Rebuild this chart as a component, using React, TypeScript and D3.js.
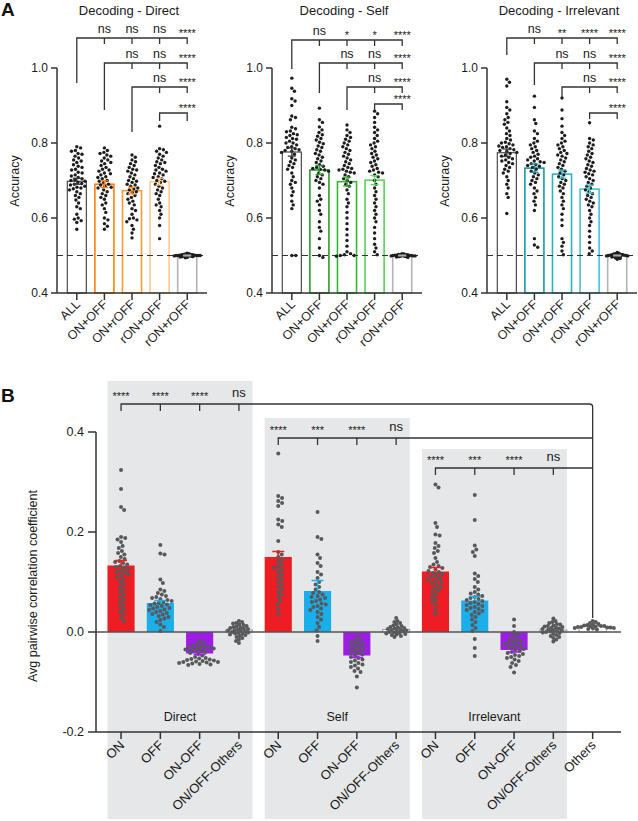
import React from "react";
import * as d3 from "d3";

const FONT = "'Liberation Sans', Arial, Helvetica, sans-serif";

// ---------------- Panel A data ----------------
const decodingCategories = ["ALL", "ON+OFF", "ON+rOFF", "rON+OFF", "rON+rOFF"];
const decodingTitles = ["Decoding - Direct", "Decoding - Self", "Decoding - Irrelevant"];
const accuracyTicks = [0.4, 0.6, 0.8, 1.0];
const chanceLevel = 0.5;

const directMeans = [0.698, 0.69, 0.673, 0.697, 0.5];
const selfMeans = [0.776, 0.728, 0.697, 0.701, 0.5];
const irrelevantMeans = [0.774, 0.733, 0.717, 0.677, 0.5];
const directSems = [0.008, 0.009, 0.009, 0.009, 0.001];
const selfSems = [0.011, 0.012, 0.012, 0.012, 0.001];
const irrelevantSems = [0.01, 0.011, 0.011, 0.011, 0.001];

const directColors = ["#3a3a3a", "#ff7f0e", "#ff9a33", "#ffc98f", "#b3b3b3"];
const selfColors = ["#3a3a3a", "#2a9d2a", "#36b536", "#55d455", "#b3b3b3"];
const irrelevantColors = ["#3a3a3a", "#1a98a6", "#2db1c1", "#48c4d3", "#b3b3b3"];

const directSig = [["ns", "ns", "ns", "****"], ["ns", "ns", "****"], ["ns", "****"], ["****"]];
const selfSig = [["ns", "*", "*", "****"], ["ns", "ns", "****"], ["ns", "****"], ["****"]];
const irrelevantSig = [["ns", "**", "****", "****"], ["ns", "ns", "****"], ["ns", "****"], ["****"]];

const directAll = [0.79, 0.787, 0.78, 0.778, 0.772, 0.77, 0.765, 0.76, 0.755, 0.752, 0.748, 0.742, 0.738, 0.735, 0.73, 0.728, 0.722, 0.72, 0.715, 0.712, 0.708, 0.705, 0.702, 0.7, 0.698, 0.695, 0.692, 0.69, 0.688, 0.685, 0.682, 0.68, 0.678, 0.675, 0.67, 0.665, 0.66, 0.655, 0.648, 0.64, 0.63, 0.625, 0.61, 0.6, 0.597, 0.593, 0.588, 0.57];
const directOnOff = [0.787, 0.78, 0.775, 0.772, 0.768, 0.765, 0.76, 0.755, 0.752, 0.748, 0.745, 0.74, 0.735, 0.73, 0.728, 0.725, 0.72, 0.718, 0.715, 0.71, 0.708, 0.705, 0.7, 0.698, 0.695, 0.69, 0.688, 0.685, 0.682, 0.68, 0.675, 0.67, 0.665, 0.66, 0.655, 0.65, 0.64, 0.635, 0.625, 0.615, 0.6, 0.595, 0.585, 0.578, 0.57];
const directOnROff = [0.768, 0.762, 0.755, 0.75, 0.745, 0.74, 0.735, 0.73, 0.728, 0.725, 0.72, 0.715, 0.71, 0.705, 0.7, 0.698, 0.695, 0.69, 0.688, 0.685, 0.68, 0.678, 0.675, 0.67, 0.668, 0.665, 0.66, 0.655, 0.65, 0.645, 0.64, 0.635, 0.625, 0.62, 0.61, 0.6, 0.598, 0.595, 0.59, 0.58, 0.57, 0.56, 0.547];
const directROnOff = [0.845, 0.785, 0.782, 0.778, 0.775, 0.77, 0.765, 0.76, 0.755, 0.75, 0.748, 0.745, 0.74, 0.735, 0.73, 0.728, 0.725, 0.72, 0.718, 0.715, 0.71, 0.708, 0.705, 0.7, 0.698, 0.695, 0.69, 0.685, 0.68, 0.675, 0.67, 0.665, 0.66, 0.65, 0.64, 0.635, 0.63, 0.62, 0.61, 0.6, 0.58, 0.545];
const directChance = [0.506, 0.505, 0.504, 0.503, 0.503, 0.502, 0.502, 0.501, 0.501, 0.501, 0.5, 0.5, 0.5, 0.5, 0.5, 0.499, 0.499, 0.499, 0.498, 0.498, 0.497, 0.497, 0.496, 0.495, 0.494];

const selfAll = [0.973, 0.946, 0.938, 0.918, 0.912, 0.9, 0.872, 0.868, 0.862, 0.842, 0.838, 0.832, 0.83, 0.825, 0.822, 0.82, 0.815, 0.812, 0.81, 0.805, 0.8, 0.8, 0.795, 0.79, 0.788, 0.785, 0.782, 0.78, 0.778, 0.775, 0.77, 0.76, 0.755, 0.75, 0.745, 0.74, 0.735, 0.73, 0.72, 0.71, 0.7, 0.695, 0.69, 0.68, 0.67, 0.66, 0.645, 0.635, 0.625, 0.5, 0.5];
const selfOnOff = [0.893, 0.862, 0.855, 0.843, 0.835, 0.828, 0.822, 0.818, 0.812, 0.808, 0.802, 0.798, 0.792, 0.788, 0.782, 0.778, 0.772, 0.768, 0.762, 0.758, 0.752, 0.748, 0.742, 0.738, 0.735, 0.732, 0.73, 0.728, 0.725, 0.72, 0.715, 0.71, 0.705, 0.7, 0.695, 0.69, 0.68, 0.66, 0.65, 0.645, 0.635, 0.62, 0.61, 0.59, 0.575, 0.565, 0.545, 0.52, 0.5, 0.495];
const selfOnROff = [0.848, 0.835, 0.828, 0.82, 0.815, 0.81, 0.805, 0.8, 0.795, 0.79, 0.785, 0.78, 0.775, 0.77, 0.765, 0.76, 0.755, 0.75, 0.745, 0.74, 0.735, 0.732, 0.73, 0.728, 0.725, 0.722, 0.72, 0.715, 0.71, 0.705, 0.7, 0.695, 0.69, 0.685, 0.675, 0.665, 0.65, 0.64, 0.63, 0.615, 0.6, 0.585, 0.57, 0.555, 0.54, 0.525, 0.51, 0.505, 0.502, 0.5, 0.5, 0.498];
const selfROnOff = [0.885, 0.878, 0.868, 0.855, 0.842, 0.835, 0.828, 0.82, 0.812, 0.805, 0.8, 0.795, 0.79, 0.785, 0.778, 0.772, 0.768, 0.762, 0.758, 0.752, 0.748, 0.742, 0.738, 0.732, 0.728, 0.725, 0.722, 0.72, 0.715, 0.71, 0.7, 0.69, 0.68, 0.67, 0.66, 0.65, 0.64, 0.63, 0.62, 0.61, 0.6, 0.59, 0.575, 0.56, 0.545, 0.53, 0.52, 0.51, 0.502];
const selfChance = [0.505, 0.504, 0.503, 0.503, 0.502, 0.502, 0.501, 0.501, 0.5, 0.5, 0.5, 0.5, 0.499, 0.499, 0.499, 0.498, 0.498, 0.497, 0.497, 0.496, 0.495];

const irrelevantAll = [0.97, 0.962, 0.952, 0.91, 0.895, 0.888, 0.878, 0.868, 0.862, 0.855, 0.85, 0.84, 0.832, 0.825, 0.82, 0.812, 0.808, 0.802, 0.8, 0.798, 0.795, 0.792, 0.79, 0.788, 0.785, 0.782, 0.78, 0.778, 0.775, 0.772, 0.768, 0.765, 0.762, 0.758, 0.755, 0.752, 0.748, 0.745, 0.74, 0.735, 0.73, 0.725, 0.72, 0.71, 0.7, 0.69, 0.68, 0.665, 0.655, 0.612];
const irrelevantOnOff = [0.925, 0.895, 0.862, 0.852, 0.832, 0.825, 0.812, 0.805, 0.8, 0.795, 0.79, 0.785, 0.78, 0.775, 0.77, 0.765, 0.762, 0.758, 0.755, 0.752, 0.75, 0.748, 0.745, 0.742, 0.74, 0.738, 0.735, 0.73, 0.725, 0.72, 0.715, 0.71, 0.705, 0.7, 0.695, 0.69, 0.68, 0.672, 0.665, 0.655, 0.645, 0.635, 0.62, 0.545, 0.528, 0.522];
const irrelevantOnROff = [0.92, 0.888, 0.865, 0.845, 0.828, 0.82, 0.812, 0.805, 0.8, 0.795, 0.79, 0.785, 0.78, 0.775, 0.772, 0.768, 0.765, 0.76, 0.755, 0.75, 0.745, 0.74, 0.735, 0.73, 0.725, 0.72, 0.715, 0.71, 0.705, 0.7, 0.695, 0.69, 0.685, 0.68, 0.672, 0.665, 0.655, 0.645, 0.635, 0.625, 0.61, 0.595, 0.58, 0.545, 0.535, 0.525, 0.512, 0.502];
const irrelevantROnOff = [0.854, 0.812, 0.808, 0.8, 0.795, 0.79, 0.785, 0.778, 0.772, 0.768, 0.762, 0.758, 0.752, 0.748, 0.742, 0.738, 0.732, 0.728, 0.725, 0.722, 0.718, 0.715, 0.71, 0.705, 0.7, 0.695, 0.69, 0.685, 0.68, 0.675, 0.67, 0.665, 0.66, 0.655, 0.65, 0.645, 0.64, 0.635, 0.63, 0.62, 0.61, 0.6, 0.59, 0.58, 0.565, 0.55, 0.535, 0.52, 0.512, 0.505];
const irrelevantChance = [0.508, 0.506, 0.505, 0.504, 0.503, 0.503, 0.502, 0.502, 0.501, 0.501, 0.5, 0.5, 0.5, 0.5, 0.499, 0.499, 0.498, 0.498, 0.497, 0.496, 0.495, 0.494, 0.492, 0.49];

// ---------------- Panel B data ----------------
const corrLabels = ["ON", "OFF", "ON-OFF", "ON/OFF-Others", "ON", "OFF", "ON-OFF", "ON/OFF-Others", "ON", "OFF", "ON-OFF", "ON/OFF-Others", "Others"];
const corrGroupNames = ["Direct", "Self", "Irrelevant"];
const corrTicks = [-0.2, 0.0, 0.2, 0.4];
const corrMeans = [0.133, 0.058, -0.043, 0.004, 0.15, 0.082, -0.047, 0.005, 0.121, 0.063, -0.036, 0.004, 0.011];
const corrSems = [0.01, 0.005, 0.002, 0.002, 0.011, 0.021, 0.004, 0.002, 0.008, 0.008, 0.004, 0.002, 0.001];
const corrSig = [["****", "****", "****", "ns"], ["****", "***", "****", "ns"], ["****", "***", "****", "ns"]];
const corrFills = ["#ee1d23", "#1aaeea", "#9d1de6", "#ffffff"];

const directOn = [0.324, 0.286, 0.25, 0.244, 0.19, 0.188, 0.185, 0.18, 0.172, 0.168, 0.162, 0.158, 0.155, 0.15, 0.146, 0.142, 0.14, 0.138, 0.135, 0.132, 0.13, 0.128, 0.125, 0.122, 0.12, 0.118, 0.115, 0.112, 0.11, 0.105, 0.1, 0.095, 0.09, 0.085, 0.08, 0.075, 0.07, 0.065, 0.06, 0.055, 0.05, 0.045, 0.04, 0.035, 0.028, 0.022];
const directOff = [0.174, 0.157, 0.155, 0.105, 0.098, 0.085, 0.082, 0.078, 0.075, 0.072, 0.07, 0.068, 0.066, 0.064, 0.062, 0.06, 0.058, 0.057, 0.055, 0.054, 0.052, 0.05, 0.048, 0.047, 0.045, 0.044, 0.042, 0.04, 0.038, 0.036, 0.035, 0.032, 0.03, 0.027, 0.024, 0.02, 0.015, 0.01, 0.002];
const directOnMinusOff = [-0.018, -0.022, -0.025, -0.027, -0.029, -0.03, -0.031, -0.032, -0.033, -0.034, -0.035, -0.036, -0.038, -0.04, -0.042, -0.044, -0.047, -0.05, -0.052, -0.053, -0.054, -0.055, -0.056, -0.057, -0.058, -0.059, -0.06, -0.06, -0.061, -0.062, -0.063, -0.064, -0.065, -0.066];
const directOthers = [0.022, 0.02, 0.018, 0.017, 0.015, 0.014, 0.012, 0.011, 0.01, 0.009, 0.008, 0.007, 0.006, 0.005, 0.004, 0.003, 0.002, 0.001, 0.0, -0.001, -0.002, -0.003, -0.004, -0.005, -0.006, -0.008, -0.01, -0.012, -0.015, -0.018, -0.022];
const selfOn = [0.357, 0.272, 0.268, 0.262, 0.258, 0.252, 0.225, 0.222, 0.215, 0.21, 0.182, 0.16, 0.155, 0.15, 0.145, 0.14, 0.135, 0.13, 0.128, 0.125, 0.12, 0.115, 0.11, 0.105, 0.1, 0.095, 0.09, 0.085, 0.08, 0.075, 0.07, 0.062, 0.055, 0.045, 0.035];
const selfOff = [0.24, 0.19, 0.186, 0.155, 0.148, 0.138, 0.132, 0.12, 0.115, 0.108, 0.1, 0.095, 0.09, 0.085, 0.08, 0.078, 0.075, 0.072, 0.07, 0.068, 0.065, 0.062, 0.06, 0.057, 0.055, 0.052, 0.05, 0.047, 0.044, 0.04, 0.036, 0.03, 0.025, 0.018, 0.01, 0.003, -0.008, -0.018];
const selfOnMinusOff = [-0.01, -0.015, -0.018, -0.02, -0.023, -0.025, -0.027, -0.03, -0.032, -0.035, -0.037, -0.04, -0.042, -0.045, -0.047, -0.05, -0.052, -0.055, -0.057, -0.06, -0.062, -0.065, -0.067, -0.07, -0.073, -0.078, -0.08, -0.089, -0.111];
const selfOthers = [0.028, 0.022, 0.02, 0.018, 0.015, 0.013, 0.012, 0.01, 0.009, 0.008, 0.007, 0.006, 0.005, 0.004, 0.003, 0.002, 0.001, 0.0, -0.001, -0.002, -0.003, -0.004, -0.005, -0.006, -0.008, -0.01];
const irrelevantOn = [0.295, 0.289, 0.218, 0.21, 0.195, 0.193, 0.178, 0.172, 0.168, 0.162, 0.158, 0.148, 0.14, 0.135, 0.132, 0.13, 0.128, 0.125, 0.122, 0.12, 0.118, 0.115, 0.112, 0.11, 0.108, 0.105, 0.102, 0.1, 0.097, 0.094, 0.09, 0.087, 0.083, 0.08, 0.075, 0.07, 0.065, 0.06, 0.055, 0.045, 0.036];
const irrelevantOff = [0.274, 0.224, 0.173, 0.165, 0.16, 0.152, 0.117, 0.112, 0.106, 0.1, 0.09, 0.085, 0.08, 0.077, 0.075, 0.072, 0.07, 0.068, 0.066, 0.064, 0.062, 0.06, 0.058, 0.056, 0.054, 0.052, 0.05, 0.048, 0.046, 0.044, 0.042, 0.04, 0.037, 0.034, 0.03, 0.025, 0.02, 0.014, 0.008, 0.002, -0.014, -0.032, -0.048];
const irrelevantOnMinusOff = [0.025, 0.012, 0.0, -0.005, -0.01, -0.013, -0.016, -0.018, -0.02, -0.022, -0.024, -0.026, -0.028, -0.03, -0.032, -0.034, -0.036, -0.038, -0.04, -0.042, -0.044, -0.046, -0.048, -0.05, -0.052, -0.055, -0.058, -0.062, -0.066, -0.07, -0.081];
const irrelevantOthers = [0.027, 0.022, 0.02, 0.018, 0.016, 0.015, 0.013, 0.012, 0.011, 0.01, 0.009, 0.008, 0.007, 0.006, 0.005, 0.004, 0.003, 0.002, 0.001, 0.0, -0.001, -0.002, -0.004, -0.006, -0.008, -0.01, -0.012, -0.015, -0.019];
const othersOnly = [0.022, 0.02, 0.018, 0.016, 0.015, 0.014, 0.013, 0.012, 0.012, 0.011, 0.011, 0.01, 0.01, 0.009, 0.009, 0.008, 0.008, 0.007, 0.006, 0.005];

// ---------------- helpers ----------------
function swarm(values: number[], yScale: (v: number) => number, cx: number, D: number) {
  const ys = values.map((v) => yScale(v)).sort((a, b) => a - b);
  const placed: { x: number; y: number }[] = [];
  for (const py of ys) {
    const iv: [number, number][] = [];
    for (const q of placed) {
      const dy = Math.abs(q.y - py);
      if (dy < D) {
        const dx = Math.sqrt(D * D - dy * dy);
        iv.push([q.x - dx, q.x + dx]);
      }
    }
    const cands = [0];
    iv.forEach(([a, b]) => cands.push(a, b));
    cands.sort((a, b) => Math.abs(a) - Math.abs(b) || b - a);
    let best = 0;
    for (const c of cands) {
      if (iv.every(([a, b]) => c <= a + 1e-6 || c >= b - 1e-6)) {
        best = c;
        break;
      }
    }
    placed.push({ x: best, y: py });
  }
  return placed.map((p) => ({ x: cx + p.x, y: p.y }));
}

const AXIS = "#333";
const TEXT = "#1a1a1a";

function DecodingPanel(props: any) {
  const { left, title, means, sems, colors, pts, sig, rowY, legEnd } = props;
  const x = d3.scaleBand<string>().domain(decodingCategories).range([left + 6, left + 144]).paddingInner(0.31).paddingOuter(0.155);
  const y = d3.scaleLinear().domain([0.4, 1.0]).range([293, 68]);
  const bw = x.bandwidth();
  const cx = (i: number) => (x(decodingCategories[i]) as number) + bw / 2;
  const base = y(0.4);
  const last = decodingCategories.length - 1;
  return (
    <g>
      <text x={left + 72} y={15} textAnchor="middle" fontSize={13} fill={TEXT}>{title}</text>
      <text transform={`translate(${left - 38},181) rotate(-90)`} textAnchor="middle" fontSize={12.5} fill={TEXT}>Accuracy</text>
      {decodingCategories.map((c, i) => (
        <rect key={c} x={x(c)} y={y(means[i])} width={bw} height={base - y(means[i])} fill="#fff" stroke={colors[i]} strokeWidth={i === 0 ? 1.1 : 1.6} />
      ))}
      <line x1={left} x2={left + 150} y1={y(chanceLevel)} y2={y(chanceLevel)} stroke="#333" strokeDasharray="6,4" strokeWidth={1.2} />
      {pts.map((vals: number[], i: number) =>
        swarm(vals, y, cx(i), i === last ? 1.9 : 4.0).map((p, k) => (
          <circle key={`${i}-${k}`} cx={p.x} cy={p.y} r={1.7} fill="#1e1e1e" />
        ))
      )}
      {decodingCategories.map((c, i) => (
        <g key={`e${c}`} stroke={colors[i]} strokeWidth={1.3}>
          <line x1={cx(i)} x2={cx(i)} y1={y(means[i] - sems[i])} y2={y(means[i] + sems[i])} />
          <line x1={cx(i) - 4} x2={cx(i) + 4} y1={y(means[i] + sems[i])} y2={y(means[i] + sems[i])} />
          <line x1={cx(i) - 4} x2={cx(i) + 4} y1={y(means[i] - sems[i])} y2={y(means[i] - sems[i])} />
        </g>
      ))}
      <line x1={left} x2={left} y1={y(1.0)} y2={base} stroke={AXIS} strokeWidth={1.5} />
      <line x1={left} x2={left + 150} y1={base} y2={base} stroke={AXIS} strokeWidth={1.5} />
      {accuracyTicks.map((t) => (
        <g key={t}>
          <line x1={left - 6} x2={left} y1={y(t)} y2={y(t)} stroke={AXIS} strokeWidth={1.5} />
          <text x={left - 9} y={y(t)} dy="0.35em" textAnchor="end" fontSize={12} fill={TEXT}>{d3.format(".1f")(t)}</text>
        </g>
      ))}
      {decodingCategories.map((c, i) => (
        <g key={`t${c}`}>
          <line x1={cx(i)} x2={cx(i)} y1={base} y2={base + 7} stroke={AXIS} strokeWidth={1.5} />
          <text transform={`translate(${cx(i) + 4},${base + 12}) rotate(-45)`} textAnchor="end" fontSize={12.5} fill={TEXT}>{c}</text>
        </g>
      ))}
      {sig.map((row: string[], k: number) => {
        const x0 = cx(k);
        const x1 = cx(last);
        const ly = rowY[k];
        const endRight = k === last - 1 ? legEnd[k] : ly + 6;
        return (
          <g key={`s${k}`}>
            <path d={`M${x0},${legEnd[k]}V${ly}H${x1}V${endRight}`} fill="none" stroke={AXIS} strokeWidth={1.3} />
            {row.map((lab, j) => {
              const idx = k + 1 + j;
              const isStar = lab.startsWith("*");
              return (
                <g key={j}>
                  {idx < last && <line x1={cx(idx)} x2={cx(idx)} y1={ly} y2={ly + 6} stroke={AXIS} strokeWidth={1.3} />}
                  <text x={cx(idx)} y={isStar ? ly - 1.5 : ly - 5} textAnchor="middle" fontSize={isStar ? 11 : 12.5} fill={TEXT}>{lab}</text>
                </g>
              );
            })}
          </g>
        );
      })}
    </g>
  );
}

export default function App() {
  const panels = [
    { left: 57, title: decodingTitles[0], means: directMeans, sems: directSems, colors: directColors, pts: [directAll, directOnOff, directOnROff, directROnOff, directChance], sig: directSig, rowY: [38, 63, 87, 113], legEnd: [83, 110, 132, 121] },
    { left: 272, title: decodingTitles[1], means: selfMeans, sems: selfSems, colors: selfColors, pts: [selfAll, selfOnOff, selfOnROff, selfROnOff, selfChance], sig: selfSig, rowY: [40, 63, 87, 104], legEnd: [69, 93, 110, 110] },
    { left: 487, title: decodingTitles[2], means: irrelevantMeans, sems: irrelevantSems, colors: irrelevantColors, pts: [irrelevantAll, irrelevantOnOff, irrelevantOnROff, irrelevantROnOff, irrelevantChance], sig: irrelevantSig, rowY: [38, 63, 87, 113], legEnd: [55, 85, 97, 119] },
  ];

  const idx = corrLabels.map((_, i) => String(i));
  const xB = d3.scaleBand<string>().domain(idx).range([101.4, 612.3]).paddingInner(0.31).paddingOuter(0.155);
  const yB = d3.scaleLinear().domain([-0.2, 0.4]).range([732, 432]);
  const bwB = xB.bandwidth();
  const cxB = (i: number) => (xB(String(i)) as number) + bwB / 2;
  const axisX = 96;
  const rightX = 621;
  const corrPoints = [directOn, directOff, directOnMinusOff, directOthers, selfOn, selfOff, selfOnMinusOff, selfOthers, irrelevantOn, irrelevantOff, irrelevantOnMinusOff, irrelevantOthers, othersOnly];
  const groupTops = [381, 418, 449];
  const bracketY = [404, 438, 468];
  const othersIdx = corrLabels.length - 1;
  const vTop = bracketY[0];
  const vBottom = yB(d3.max(othersOnly) as number) - 3;

  return (
    <svg width={638} height={821} style={{ position: "absolute", left: 0, top: 0, fontFamily: FONT }}>
      <rect x={0} y={0} width={638} height={821} fill="#fff" />
      <text x={1} y={16} fontSize={19} fontWeight="bold" fill="#111">A</text>
      <text x={1} y={402} fontSize={19} fontWeight="bold" fill="#111">B</text>
      {panels.map((p) => (
        <DecodingPanel key={p.title} {...p} />
      ))}

      {corrGroupNames.map((g, gi) => {
        const x0 = xB(String(gi * 4)) as number;
        const x1 = (xB(String(gi * 4 + 3)) as number) + bwB;
        return (
          <g key={g}>
            <rect x={x0} y={groupTops[gi]} width={x1 - x0} height={819 - groupTops[gi]} fill="#e6e7e8" />
            <text x={(x0 + x1) / 2} y={721} textAnchor="middle" fontSize={12.5} fill={TEXT}>{g}</text>
          </g>
        );
      })}
      {corrMeans.map((m, i) => {
        const isOthers = i % 4 === 3 || i === othersIdx;
        const fill = i === othersIdx ? "#ffffff" : corrFills[i % 4];
        const yTop = m >= 0 ? yB(m) : yB(0);
        const h = Math.abs(yB(m) - yB(0));
        return (
          <rect key={`b${i}`} x={xB(String(i))} y={yTop} width={bwB} height={h} fill={fill} stroke={isOthers ? "#9a9a9a" : "none"} strokeWidth={1} />
        );
      })}
      <line x1={axisX} x2={rightX} y1={yB(0)} y2={yB(0)} stroke="#555" strokeWidth={1.5} />
      {corrPoints.map((vals, i) =>
        swarm(vals, yB, cxB(i), i % 4 === 3 || i === othersIdx ? 3.3 : 4.3).map((p, k) => (
          <circle key={`p${i}-${k}`} cx={p.x} cy={p.y} r={2} fill="#58595b" />
        ))
      )}
      {corrMeans.map((m, i) => {
        if (i % 4 === 3 || i === othersIdx) return null;
        const col = corrFills[i % 4];
        const e = m >= 0 ? m + corrSems[i] : m - corrSems[i];
        return (
          <g key={`eb${i}`} stroke={col} strokeWidth={1.5}>
            <line x1={cxB(i)} x2={cxB(i)} y1={yB(m)} y2={yB(e)} />
            <line x1={cxB(i) - 6} x2={cxB(i) + 6} y1={yB(e)} y2={yB(e)} />
          </g>
        );
      })}
      <line x1={axisX} x2={axisX} y1={yB(0.4)} y2={yB(-0.2)} stroke={AXIS} strokeWidth={1.5} />
      <line x1={axisX} x2={rightX} y1={yB(-0.2)} y2={yB(-0.2)} stroke={AXIS} strokeWidth={1.5} />
      {corrTicks.map((t) => (
        <g key={`yt${t}`}>
          <line x1={axisX - 8} x2={axisX} y1={yB(t)} y2={yB(t)} stroke={AXIS} strokeWidth={1.5} />
          <text x={axisX - 12} y={yB(t)} dy="0.35em" textAnchor="end" fontSize={12.5} fill={TEXT}>{d3.format(".1f")(t).replace("−", "-")}</text>
        </g>
      ))}
      <text transform={`translate(37,586) rotate(-90)`} textAnchor="middle" fontSize={12.5} fill={TEXT}>Avg pairwise correlation coefficient</text>
      {corrLabels.map((c, i) => (
        <g key={`xl${i}`}>
          <line x1={cxB(i)} x2={cxB(i)} y1={732} y2={739} stroke={AXIS} strokeWidth={1.5} />
          <text transform={`translate(${cxB(i) + 4},${746}) rotate(-45)`} textAnchor="end" fontSize={13} fill={TEXT}>{c}</text>
        </g>
      ))}
      <path d={`M${cxB(0)},${bracketY[0] + 7}V${vTop}H${cxB(othersIdx) - 3}Q${cxB(othersIdx)},${vTop} ${cxB(othersIdx)},${vTop + 3}V${vBottom}`} fill="none" stroke={AXIS} strokeWidth={1.3} />
      {corrGroupNames.map((g, gi) => {
        const ly = bracketY[gi];
        return (
          <g key={`sg${g}`}>
            {gi > 0 && <path d={`M${cxB(gi * 4)},${ly + 7}V${ly}H${cxB(othersIdx)}`} fill="none" stroke={AXIS} strokeWidth={1.3} />}
            {corrSig[gi].map((lab, j) => {
              const i = gi * 4 + j;
              const isStar = lab.startsWith("*");
              return (
                <g key={`sl${i}`}>
                  {j > 0 && <line x1={cxB(i)} x2={cxB(i)} y1={ly} y2={ly + 7} stroke={AXIS} strokeWidth={1.3} />}
                  <text x={cxB(i)} y={isStar ? ly - 4.5 : ly - 7} textAnchor="middle" fontSize={isStar ? 11 : 13} fill={TEXT}>{lab}</text>
                </g>
              );
            })}
          </g>
        );
      })}
    </svg>
  );
}
